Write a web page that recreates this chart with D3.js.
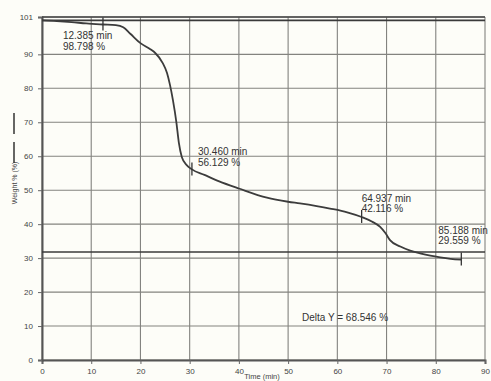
<!DOCTYPE html>
<html><head><meta charset="utf-8">
<script src="https://cdn.jsdelivr.net/npm/d3@7/dist/d3.min.js"></script>
<style>
html,body{margin:0;padding:0;background:#fdfdf8;}
svg{display:block;}
text{font-family:"Liberation Sans",Arial,sans-serif;}
</style></head>
<body>
<script>
// ---- data ----
const timeMin = [0,3,6,9,12.385,15,16.5,18,20,22,23,24.5,25.4,26,26.6,27.3,27.8,28.4,29.4,30.46,33,36,40,45.7,50,52.4,58.5,62,64.937,67,68.7,69.8,70.7,72.8,74.8,76.8,78.9,80.9,83,85.188];
const weightPct = [100.0,99.8,99.5,99.1,98.798,98.6,98.0,96.0,93.3,91.5,90.4,87.5,84.5,81.0,76.5,70.0,64.0,59.8,57.4,56.129,54.5,52.6,50.5,47.8,46.6,46.1,44.6,43.5,42.116,40.8,39.2,37.3,35.3,33.4,32.2,31.4,30.7,30.2,29.8,29.559];
const markerTime = [12.385,30.460,64.937,85.188];
const markerWeight = [98.798,56.129,42.116,29.559];
const xTicks = [0,10,20,30,40,50,60,70,80,90];
const yTicks = [0,10,20,30,40,50,60,70,80,90,101];
const refLevels = [100.0,31.8];
const deltaY = "68.546";

const W=491,H=381;
const svg=d3.select("body").append("svg").attr("width",W).attr("height",H);
const x=d3.scaleLinear().domain([0,90]).range([42,485]);
const y=d3.scaleLinear().domain([0,101]).range([360,17]);

// grid
const g=svg.append("g");
g.selectAll(".vg").data(xTicks).join("line")
 .attr("x1",d=>x(d)).attr("x2",d=>x(d)).attr("y1",y(101)).attr("y2",y(0))
 .attr("stroke","#83837f").attr("stroke-width",1.1);
g.selectAll(".hg").data(yTicks).join("line")
 .attr("x1",x(0)).attr("x2",x(90)).attr("y1",d=>y(d)).attr("y2",d=>y(d))
 .attr("stroke","#83837f").attr("stroke-width",1.1);

// axes
const xa=svg.append("g").attr("transform",`translate(0,${y(0)})`)
 .call(d3.axisBottom(x).tickValues(xTicks).tickSize(4).tickPadding(4));
const ya=svg.append("g").attr("transform",`translate(${x(0)},0)`)
 .call(d3.axisLeft(y).tickValues(yTicks).tickSize(4).tickPadding(5));
[xa,ya].forEach(a=>{
  a.select(".domain").attr("stroke","#555").attr("stroke-width",2);
  a.selectAll(".tick line").attr("stroke","#666");
  a.selectAll(".tick text").attr("fill","#444").style("font-size","8px");
});

// top frame line
svg.append("line").attr("x1",x(0)).attr("x2",x(90)).attr("y1",y(101)).attr("y2",y(101))
 .attr("stroke","#444").attr("stroke-width",1.6);
// reference levels
svg.selectAll(".ref").data(refLevels).join("line")
 .attr("x1",x(0)).attr("x2",x(90)).attr("y1",d=>y(d)).attr("y2",d=>y(d))
 .attr("stroke","#3a3a3a").attr("stroke-width",1.6);

// curve
const line=d3.line().x(d=>x(d[0])).y(d=>y(d[1])).curve(d3.curveMonotoneX);
svg.append("path").datum(timeMin.map((t,i)=>[t,weightPct[i]]))
 .attr("d",line).attr("fill","none").attr("stroke","#3c3c3c").attr("stroke-width",1.8);

// markers
const off=[{dx:-40,dy:15},{dx:6,dy:-14},{dx:0,dy:-15},{dx:-23,dy:-26}];
markerTime.forEach((t,i)=>{
  const px=x(t),py=y(markerWeight[i]);
  svg.append("line").attr("x1",px).attr("x2",px).attr("y1",py-7).attr("y2",py+6)
   .attr("stroke","#333").attr("stroke-width",1.3);
  const tx=svg.append("text").attr("x",px+off[i].dx).attr("y",py+off[i].dy)
   .attr("fill","#333").style("font-size","10px");
  tx.append("tspan").attr("x",px+off[i].dx).text(t.toFixed(3)+" min");
  tx.append("tspan").attr("x",px+off[i].dx).attr("dy",10.5).text(markerWeight[i].toFixed(3)+" %");
});

// delta Y
svg.append("text").attr("x",302).attr("y",321).attr("fill","#333").style("font-size","10px")
 .text("Delta Y = "+deltaY+" %");

// axis titles
svg.append("text").attr("x",262).attr("y",379).attr("text-anchor","middle")
 .attr("fill","#444").style("font-size","7.5px").text("Time (min)");
svg.append("text").attr("transform","translate(17,183) rotate(-90)").attr("text-anchor","middle")
 .attr("fill","#444").style("font-size","7px").text("Weight % (%)");
[[113,134],[142,163]].forEach(s=>{
  svg.append("line").attr("x1",14).attr("x2",14).attr("y1",s[0]).attr("y2",s[1])
   .attr("stroke","#333").attr("stroke-width",1.5);
});
</script>
</body></html>
